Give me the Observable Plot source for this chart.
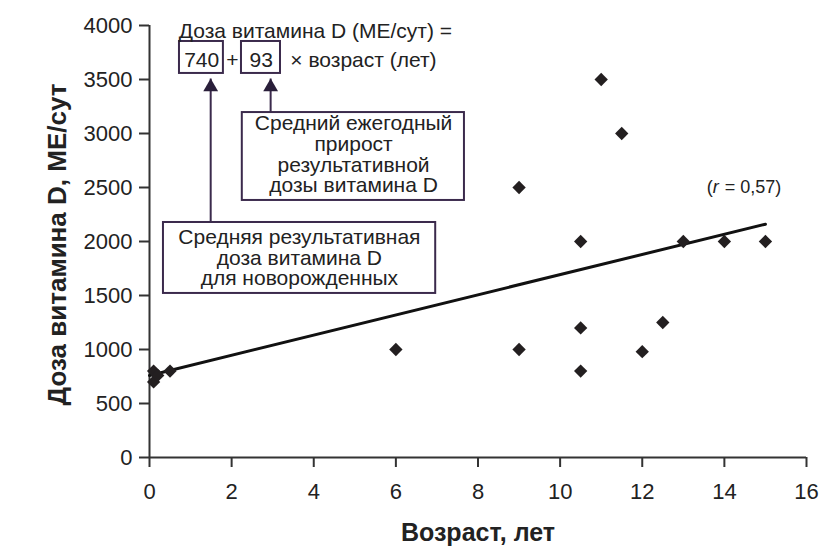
<!DOCTYPE html>
<html><head><meta charset="utf-8">
<script src="https://cdn.jsdelivr.net/npm/d3@7"></script>
<script src="https://cdn.jsdelivr.net/npm/@observablehq/plot@0.6"></script>
<style>body{margin:0;background:#fff}</style>
</head><body><div id="chart"></div>
<script>
// Data
const ages  = [0.1, 0.1, 0.2, 0.5, 6, 9, 9, 10.5, 10.5, 10.5, 11, 11.5, 12, 12.5, 13, 14, 15];
const doses = [800, 700, 760, 800, 1000, 2500, 1000, 2000, 1200, 800, 3500, 3000, 980, 1250, 2000, 2000, 2000];
const fitAges = [0, 15];
const fitDoses = [760, 2160];
const xTicks = [0, 2, 4, 6, 8, 10, 12, 14, 16];
const yTicks = [0, 500, 1000, 1500, 2000, 2500, 3000, 3500, 4000];
const xLabel = "Возраст, лет";
const yLabel = "Доза витамина D, МЕ/сут";
const rOpen = "(";
const rSymbol = "r";
const rValue = "= 0,57)";
const rPos = {x: 13.57, y: 2500};

// Annotations (data coordinates)
const eqTitle = [{x: 4.04, y: 3944, text: "Доза витамина D (МЕ/сут) ="}];
const eqParts = [
  {x: 1.27, y: 3676, text: "740", anchor: "middle"},
  {x: 2.02, y: 3676, text: "+", anchor: "middle"},
  {x: 2.72, y: 3676, text: "93", anchor: "middle"},
  {x: 3.43, y: 3676, text: "× возраст (лет)", anchor: "start"}
];
const eqBoxes = [
  {x1: 0.73, x2: 1.80, y1: 3556, y2: 3852},
  {x1: 2.24, x2: 3.19, y1: 3556, y2: 3852}
];
const noteBoxes = [
  {x1: 2.26, x2: 7.67, y1: 2380, y2: 3194},
  {x1: 0.34, x2: 6.97, y1: 1519, y2: 2176}
];
const notes = [
  {x: 4.97, y: 2806, text: "Средний ежегодный\nприрост\nрезультативной\nдозы витамина D"},
  {x: 3.65, y: 1847, text: "Средняя результативная\nдоза витамина D\nдля новорожденных"}
];
const arrows = [
  {x: 1.49, y1: 2176, y2: 3509},
  {x: 2.95, y1: 3194, y2: 3509}
];

const points = ages.map((a, i) => ({age: a, dose: doses[i]}));
const fit = fitAges.map((a, i) => ({age: a, dose: fitDoses[i]}));
const font = "Liberation Sans, Arial, Helvetica, sans-serif";
const purple = "#3b2a4c";
const ink = "#222";

const rText = (t, dx, italic) => Plot.text([t], {
  x: () => rPos.x, y: () => rPos.y, dx, text: d => d, textAnchor: "start",
  fontSize: 18, fontStyle: italic ? "italic" : "normal", fill: ink
});

const chart = Plot.plot({
  width: 820, height: 547,
  marginLeft: 149, marginRight: 14, marginTop: 25, marginBottom: 90,
  style: {fontFamily: font, fontSize: "22px", color: ink, background: "#fff"},
  x: {domain: [0, 16]},
  y: {domain: [0, 4000]},
  marks: [
    Plot.axisX(xTicks, {tickSize: 10, tickPadding: 16, tickFormat: d => String(d), label: null, stroke: "#333", strokeWidth: 2, fontSize: 22, fill: ink}),
    Plot.axisY(yTicks, {tickSize: 10, tickPadding: 7, tickFormat: d => String(d), label: null, stroke: "#333", strokeWidth: 2, fontSize: 22, fill: ink}),
    Plot.ruleY([0], {stroke: "#333", strokeWidth: 2}),
    Plot.ruleX([0], {stroke: "#333", strokeWidth: 2}),
    Plot.line(fit, {x: "age", y: "dose", stroke: "#111", strokeWidth: 3}),
    Plot.dot(points, {x: "age", y: "dose", symbol: "diamond2", r: 6, fill: "#231f20", stroke: null}),
    Plot.link(arrows, {x1: "x", x2: "x", y1: "y1", y2: "y2", stroke: purple, strokeWidth: 2}),
    Plot.dot(arrows, {x: "x", y: "y2", symbol: "triangle", r: 5.5, fill: "#2a1f3a", stroke: null, dy: 8.5}),
    Plot.rect(eqBoxes, {x1: "x1", x2: "x2", y1: "y1", y2: "y2", fill: "#fff", stroke: purple, strokeWidth: 2}),
    Plot.rect(noteBoxes, {x1: "x1", x2: "x2", y1: "y1", y2: "y2", fill: "#fff", stroke: purple, strokeWidth: 2}),
    Plot.text(eqTitle, {x: "x", y: "y", text: "text", fontSize: 21, fill: ink}),
    Plot.text(eqParts, {x: "x", y: "y", text: "text", textAnchor: "middle", fontSize: 21, fill: ink, filter: d => d.anchor === "middle"}),
    Plot.text(eqParts, {x: "x", y: "y", text: "text", textAnchor: "start", fontSize: 21, fill: ink, filter: d => d.anchor === "start"}),
    Plot.text(notes, {x: "x", y: "y", text: "text", fontSize: 21, lineHeight: 0.99, fill: ink}),
    rText(rOpen, 0, false),
    rText(rSymbol, 6, true),
    rText(rValue, 18, false),
    Plot.text([xLabel], {frameAnchor: "bottom", dy: 75, lineAnchor: "middle", text: d => d, fontSize: 25, fontWeight: "bold", fill: ink}),
    Plot.text([yLabel], {frameAnchor: "left", rotate: -90, dx: -92, dy: 3, textAnchor: "middle", text: d => d, fontSize: 26, fontWeight: "bold", fill: ink})
  ]
});
document.getElementById("chart").append(chart);
</script>
</body></html>
